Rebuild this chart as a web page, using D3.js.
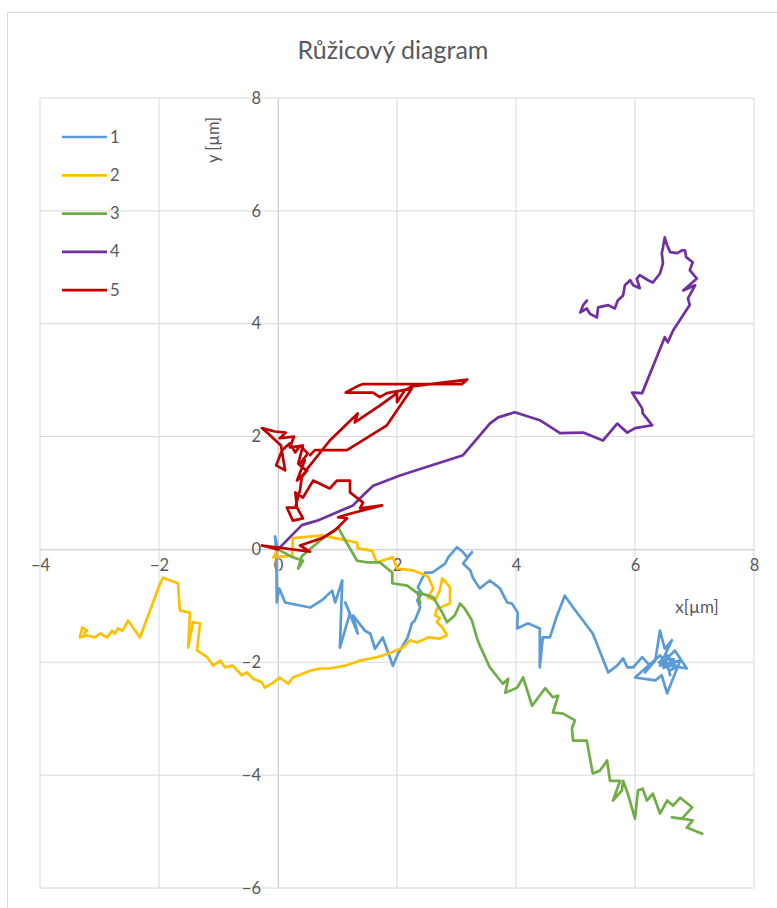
<!DOCTYPE html>
<html><head><meta charset="utf-8">
<script src="https://cdnjs.cloudflare.com/ajax/libs/d3/7.8.5/d3.min.js"></script>
<style>body{margin:0;background:#fff}svg{display:block}text{font-family:Lato,"Open Sans",sans-serif;fill:#595959}</style>
</head><body>
<script>
const title = "Růžicový diagram";
const xLabel = "x[µm]";
const yLabel = "y [µm]";
const xTicks = [-4, -2, 0, 2, 4, 6, 8];
const yTicks = [-6, -4, -2, 0, 2, 4, 6, 8];
const seriesNames = ["1", "2", "3", "4", "5"];
const seriesColors = ["#5B9BD5", "#FFC000", "#70AD47", "#7030A0", "#C00000"];

const s1 = [[0,0],[-0.05,0.23],[-0.03,-0.02],[-0.02,-0.94],[0.02,-0.69],[0.12,-0.94],[0.54,-1.03],[0.74,-0.90],[0.91,-0.73],[0.96,-0.94],[1.08,-0.55],[1.04,-1.74],[1.21,-1.13],[1.13,-0.94],[1.34,-1.49],[1.26,-1.17],[1.46,-1.44],[1.55,-1.49],[1.63,-1.76],[1.76,-1.56],[1.93,-2.06],[2.02,-1.84],[2.18,-1.56],[2.25,-1.31],[2.30,-1.26],[2.39,-1.03],[2.34,-0.90],[2.42,-0.78],[2.35,-0.67],[2.47,-0.41],[2.59,-0.41],[2.81,-0.25],[2.86,-0.14],[3.01,0.04],[3.11,-0.05],[3.18,-0.14],[3.26,-0.05],[3.11,-0.25],[3.23,-0.37],[3.28,-0.51],[3.39,-0.69],[3.56,-0.55],[3.73,-0.69],[3.85,-0.94],[3.93,-0.96],[4.03,-1.12],[4.02,-1.40],[4.20,-1.31],[4.40,-1.40],[4.40,-2.09],[4.45,-1.56],[4.57,-1.56],[4.69,-1.17],[4.82,-0.82],[4.96,-1.03],[5.29,-1.49],[5.55,-2.18],[5.70,-2.06],[5.80,-1.93],[5.87,-2.09],[5.97,-2.09],[6.12,-1.91],[6.25,-2.06],[6.17,-2.18],[6.34,-1.97],[6.42,-1.44],[6.50,-1.76],[6.62,-1.61],[6.42,-2.06],[6.76,-1.97],[6.54,-2.55],[6.45,-2.23],[6.34,-2.32],[6.00,-2.27],[6.17,-2.11],[6.42,-1.88],[6.59,-2.06],[6.87,-2.11],[6.67,-1.79],[6.50,-1.97],[6.40,-2.00],[6.55,-1.90],[6.48,-2.10],[6.62,-2.02],[6.52,-1.85],[6.70,-2.08],[6.58,-2.15],[6.45,-1.95],[6.65,-1.95],[6.55,-2.05],[6.59,-2.23]];

const s2 = [[0,0],[-0.08,-0.14],[0.24,-0.11],[0.25,0.20],[0.74,0.25],[1.33,0.12],[1.34,0.02],[1.58,-0.02],[1.66,-0.23],[1.93,-0.14],[2.00,-0.34],[2.27,-0.37],[2.52,-0.48],[2.61,-0.69],[2.52,-0.85],[2.64,-0.90],[2.72,-0.73],[2.76,-0.51],[2.89,-0.67],[2.89,-0.96],[2.67,-1.05],[2.64,-1.17],[2.72,-1.22],[2.67,-1.29],[2.76,-1.38],[2.84,-1.52],[2.72,-1.58],[2.52,-1.56],[2.34,-1.65],[2.22,-1.61],[2.10,-1.74],[1.88,-1.84],[1.66,-1.91],[1.38,-1.97],[1.13,-2.06],[0.87,-2.11],[0.71,-2.11],[0.54,-2.15],[0.25,-2.27],[0.17,-2.38],[0.03,-2.27],[-0.08,-2.36],[-0.22,-2.45],[-0.27,-2.36],[-0.42,-2.29],[-0.52,-2.18],[-0.61,-2.23],[-0.76,-2.06],[-0.89,-2.09],[-0.97,-1.97],[-1.09,-2.06],[-1.19,-1.91],[-1.36,-1.79],[-1.31,-1.31],[-1.43,-1.29],[-1.51,-1.74],[-1.48,-1.12],[-1.65,-1.08],[-1.68,-0.60],[-1.93,-0.50],[-1.98,-0.60],[-2.32,-1.56],[-2.52,-1.26],[-2.61,-1.44],[-2.69,-1.40],[-2.74,-1.49],[-2.79,-1.44],[-2.87,-1.56],[-2.99,-1.49],[-3.08,-1.56],[-3.21,-1.52],[-3.33,-1.56],[-3.29,-1.38],[-3.21,-1.44],[-3.26,-1.49]];

const s3 = [[0,0],[0.25,-0.14],[0.42,-0.20],[0.34,-0.34],[0.40,-0.12],[0.71,0.16],[1.01,0.39],[1.13,0.16],[1.33,-0.20],[1.50,-0.23],[1.71,-0.23],[1.92,-0.41],[1.92,-0.60],[2.17,-0.64],[2.35,-0.78],[2.39,-0.96],[2.35,-0.76],[2.61,-0.85],[2.76,-1.12],[2.84,-1.29],[2.97,-1.17],[3.06,-0.96],[3.14,-1.05],[3.26,-1.26],[3.34,-1.56],[3.39,-1.70],[3.56,-2.09],[3.78,-2.38],[3.87,-2.29],[3.82,-2.54],[4.02,-2.45],[4.12,-2.27],[4.27,-2.77],[4.49,-2.46],[4.62,-2.62],[4.71,-2.59],[4.62,-2.89],[4.79,-2.91],[4.99,-3.03],[4.94,-3.17],[4.96,-3.39],[5.19,-3.39],[5.29,-3.97],[5.41,-3.92],[5.50,-3.79],[5.53,-3.74],[5.58,-4.10],[5.75,-4.10],[5.63,-4.45],[5.78,-4.27],[5.80,-4.10],[5.88,-4.33],[6.00,-4.77],[6.05,-4.27],[6.13,-4.24],[6.20,-4.45],[6.30,-4.33],[6.42,-4.68],[6.54,-4.45],[6.64,-4.54],[6.76,-4.40],[6.96,-4.57],[6.79,-4.77],[6.62,-4.75],[6.97,-4.80],[6.87,-4.93],[7.13,-5.04]];

const s4 = [[0,0],[0.40,0.43],[0.66,0.51],[1.26,0.78],[1.46,0.99],[1.60,1.13],[2.05,1.31],[3.11,1.67],[3.56,2.23],[3.70,2.34],[3.98,2.43],[4.40,2.29],[4.74,2.06],[5.13,2.07],[5.46,1.93],[5.70,2.23],[5.87,2.07],[6.00,2.15],[6.29,2.20],[6.13,2.41],[6.12,2.50],[5.95,2.78],[6.12,2.77],[6.50,3.76],[6.55,3.67],[6.64,3.88],[6.92,4.33],[6.89,4.45],[7.01,4.68],[6.81,4.59],[7.04,4.80],[6.92,4.95],[6.97,5.09],[6.86,5.18],[6.84,5.30],[6.79,5.30],[6.71,5.25],[6.59,5.27],[6.54,5.39],[6.50,5.53],[6.47,5.35],[6.45,5.25],[6.47,5.07],[6.42,4.89],[6.30,4.73],[6.22,4.77],[6.08,4.86],[6.03,4.80],[6.08,4.63],[5.97,4.68],[5.92,4.77],[5.83,4.68],[5.80,4.50],[5.71,4.41],[5.66,4.27],[5.55,4.33],[5.38,4.29],[5.36,4.11],[5.24,4.18],[5.19,4.27],[5.08,4.20],[5.13,4.33],[5.19,4.41]];

const s5 = [[0,0],[-0.27,0.07],[0.54,-0.04],[0.37,0.07],[0.74,0.20],[0.96,0.34],[1.16,0.55],[1.01,0.57],[1.24,0.64],[1.75,0.78],[1.38,0.73],[1.43,0.83],[1.21,1.01],[1.21,1.22],[0.99,1.22],[0.87,1.08],[0.59,1.22],[0.42,0.92],[0.29,1.01],[0.32,0.74],[0.15,0.74],[0.25,0.51],[0.42,0.55],[0.30,0.78],[0.37,1.05],[0.40,1.28],[0.49,1.40],[0.32,1.22],[0.45,1.58],[0.37,1.52],[0.50,1.70],[0.37,1.84],[0.29,1.72],[0.20,1.88],[0.07,1.76],[-0.03,1.49],[0.12,1.40],[0.05,1.84],[-0.17,2.06],[-0.27,2.15],[-0.05,2.09],[0.13,2.07],[0.03,1.97],[0.27,2.00],[0.20,1.81],[0.42,1.84],[0.34,1.52],[0.47,1.40],[0.87,1.93],[1.34,2.41],[1.29,2.25],[1.71,2.55],[2.00,2.77],[2.00,2.61],[2.13,2.82],[2.25,2.89],[3.18,3.01],[3.09,2.93],[1.43,2.93],[1.33,2.89],[1.14,2.78],[1.60,2.78],[1.71,2.70],[1.83,2.77],[2.25,2.85],[1.83,2.20],[1.16,1.76],[0.62,1.76],[0.54,1.67]];

const allSeries = [s1, s2, s3, s4, s5];

const W = 777, H = 908;
const FONT = "Lato, 'Open Sans', sans-serif";
const svg = d3.select("body").append("svg").attr("width", W).attr("height", H);

// chart frame
svg.append("rect").attr("x", 7.5).attr("y", 12.5).attr("width", 800).attr("height", 920)
  .attr("fill", "#fff").attr("stroke", "#d9d9d9").attr("stroke-width", 1);

const x = d3.scaleLinear().domain([-4, 8]).range([40, 754]);
const y = d3.scaleLinear().domain([-6, 8]).range([888, 98]);

// gridlines
const g = svg.append("g");
g.selectAll("line.v").data(xTicks).join("line")
  .attr("x1", d => x(d)).attr("x2", d => x(d)).attr("y1", y(8)).attr("y2", y(-6))
  .attr("stroke", "#d9d9d9").attr("stroke-width", 1);
g.selectAll("line.h").data(yTicks).join("line")
  .attr("y1", d => y(d)).attr("y2", d => y(d)).attr("x1", x(-4)).attr("x2", x(8))
  .attr("stroke", "#d9d9d9").attr("stroke-width", 1);

// axis lines through origin
const xAxis = d3.axisBottom(x).tickValues(xTicks).tickSize(0).tickPadding(10).tickFormat(d3.format("d"));
const ga = svg.append("g").attr("transform", `translate(0,${y(0)})`).call(xAxis);
ga.select(".domain").attr("stroke", "#d0d0d0");
ga.selectAll("text").attr("font-size", 16.5).attr("fill", "#595959").style("font-family", FONT);

const yAxis = d3.axisLeft(y).tickValues(yTicks).tickSize(0).tickPadding(17).tickFormat(d3.format("d"));
const gy = svg.append("g").attr("transform", `translate(${x(0)},0)`).call(yAxis);
gy.select(".domain").attr("stroke", "#d0d0d0");
gy.selectAll("text").attr("font-size", 16.5).attr("fill", "#595959").style("font-family", FONT);

// series
const line = d3.line().x(d => x(d[0])).y(d => y(d[1]));
svg.append("g").selectAll("path").data(allSeries).join("path")
  .attr("d", line).attr("fill", "none")
  .attr("stroke", (d, i) => seriesColors[i]).attr("stroke-width", 2.7)
  .attr("stroke-linejoin", "round").attr("stroke-linecap", "round");

// title
svg.append("text").attr("x", 393).attr("y", 59).attr("text-anchor", "middle")
  .attr("font-size", 25).text(title);

// axis titles
svg.append("text").attr("transform", "translate(219,140) rotate(-90)").attr("text-anchor", "middle")
  .attr("font-size", 16.5).text(yLabel);
svg.append("text").attr("x", 697).attr("y", 613).attr("text-anchor", "middle")
  .attr("font-size", 17).text(xLabel);

// legend
const leg = svg.append("g").selectAll("g").data(seriesNames).join("g")
  .attr("transform", (d, i) => `translate(62,${137 + i * 38.3})`);
leg.append("line").attr("x1", 0).attr("x2", 45).attr("y1", 0).attr("y2", 0)
  .attr("stroke", (d, i) => seriesColors[i]).attr("stroke-width", 2.7);
leg.append("text").attr("x", 48).attr("y", 5.5).attr("font-size", 16.5).text(d => d);
</script>
</body></html>
